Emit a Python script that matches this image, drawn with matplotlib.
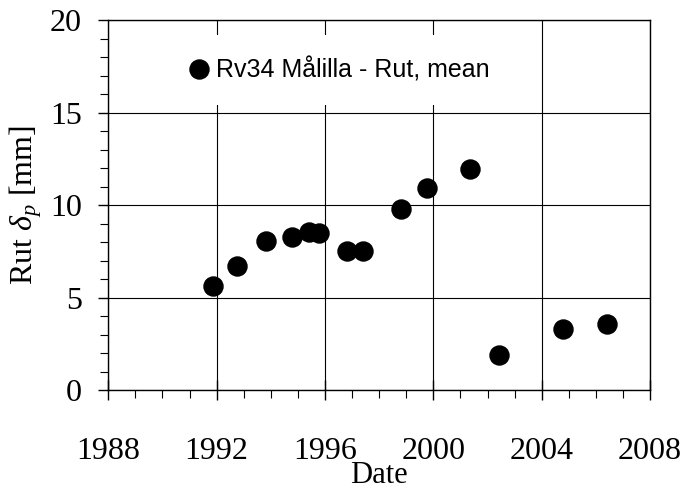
import numpy as np
import matplotlib
matplotlib.use("Agg")
from matplotlib import pyplot as plt
from matplotlib.ticker import MultipleLocator

# Rut depth measurements, Rv34 Malilla (mean over section)
dates = [1991.87, 1992.77, 1993.81, 1994.77, 1995.41, 1995.79, 1996.81, 1997.41,
         1998.82, 1999.77, 2001.37, 2002.42, 2004.79, 2006.40]
rut_mean = [5.64, 6.72, 8.04, 8.29, 8.52, 8.49, 7.53, 7.50,
            9.80, 10.94, 11.95, 1.87, 3.28, 3.58]
series_label = "Rv34 Målilla - Rut, mean"

plt.rcParams['font.family'] = 'Liberation Serif'
plt.rcParams['mathtext.fontset'] = 'custom'
plt.rcParams['mathtext.rm'] = 'Liberation Serif'
plt.rcParams['mathtext.it'] = 'Liberation Serif:italic'

fig = plt.figure(figsize=(6.85, 4.9), dpi=100)
ax = fig.add_axes([0.158, 0.204, 0.791, 0.755])

ax.plot(dates, rut_mean, 'o', color='black', ms=13.7, mec='black',
        label=series_label, zorder=3)

ax.set_xlim(1988, 2008)
ax.set_ylim(0, 20)
ax.xaxis.set_major_locator(MultipleLocator(4))
ax.xaxis.set_minor_locator(MultipleLocator(1))
ax.yaxis.set_major_locator(MultipleLocator(5))
ax.yaxis.set_minor_locator(MultipleLocator(1))

ax.grid(True, which='major', color='black', lw=0.8)
for s in ax.spines.values():
    s.set_linewidth(1.0)

ax.tick_params(axis='x', which='major', direction='inout', length=14, width=1.0,
               labelsize=23, pad=27)
ax.tick_params(axis='x', which='minor', direction='out', length=6, width=0.8)
ax.tick_params(axis='y', which='major', direction='out', length=7, width=1.0,
               labelsize=23, pad=12)
ax.tick_params(axis='y', which='minor', direction='out', length=6, width=0.8)

ax.set_xlabel('Date', fontsize=22, labelpad=-4)
ax.set_ylabel(r'Rut $\delta_p$ [mm]', fontsize=23, labelpad=4)

leg = ax.legend(loc='center left', bbox_to_anchor=(0.089, 0.865), frameon=True,
                prop={'family': 'Liberation Sans', 'size': 18},
                handlelength=0.6, handletextpad=0.4, borderpad=0.9,
                numpoints=1, fancybox=False)
leg.get_frame().set_edgecolor('none')
leg.get_frame().set_facecolor('white')
leg.get_frame().set_alpha(1.0)

fig.savefig('out.png', dpi=100)
